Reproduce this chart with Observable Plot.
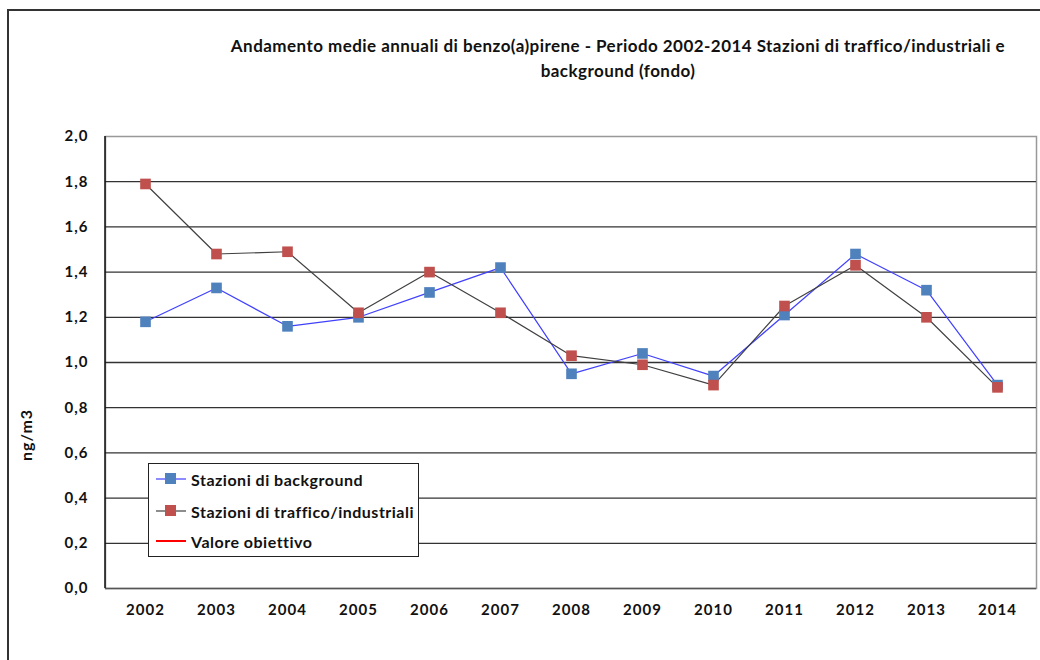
<!DOCTYPE html>
<html>
<head>
<meta charset="utf-8">
<script src="https://cdn.jsdelivr.net/npm/d3@7"></script>
<script src="https://cdn.jsdelivr.net/npm/@observablehq/plot@0.6"></script>
<style>
  html, body { margin: 0; padding: 0; background: #fff; overflow: hidden; }
  #wrap { position: relative; width: 1040px; height: 660px; overflow: hidden; font-family: Lato, "DejaVu Sans", sans-serif; color: #111; }
  #border { position: absolute; left: 7px; top: 9px; width: 1100px; height: 700px; border: 2px solid #333; box-sizing: border-box; }
  #titlebox { position: relative; height: 100px; }
  #title { position: absolute; left: 618px; top: 33px; transform: translateX(-50%); white-space: nowrap; text-align: center; font-weight: bold; font-size: 17px; letter-spacing: 0.45px; line-height: 25px; }
  #ylabel { position: absolute; left: 25px; top: 435px; transform: translate(-50%, -50%) rotate(-90deg); font-weight: bold; font-size: 16px; letter-spacing: 1px; white-space: nowrap; }
  #legend { position: absolute; left: 148px; top: 463px; width: 271px; height: 94px; border: 1px solid #222; background: #fff; box-sizing: border-box; font-weight: bold; font-size: 16px; letter-spacing: 0.5px; }
  .row { position: absolute; left: 5px; height: 20px; display: flex; align-items: center; white-space: nowrap; }
  .row svg { margin-right: 5px; }
  #chart { position: relative; }
  #chart svg text { letter-spacing: 1px; }
</style>
</head>
<body>
<div id="wrap">
  <div id="border"></div>
  <div id="titlebox"><div id="title">Andamento medie annuali di benzo(a)pirene - Periodo 2002-2014 Stazioni di traffico/industriali e<br>background (fondo)</div></div>
  <div id="chart"></div>
  <div id="ylabel">ng/m3</div>
  <div id="legend"></div>
</div>
<script>
// Annual means of benzo(a)pyrene, ng/m3
const years = ["2002", "2003", "2004", "2005", "2006", "2007", "2008", "2009", "2010", "2011", "2012", "2013", "2014"];
const background = [1.18, 1.33, 1.16, 1.20, 1.31, 1.42, 0.95, 1.04, 0.94, 1.21, 1.48, 1.32, 0.90];
const traffic = [1.79, 1.48, 1.49, 1.22, 1.40, 1.22, 1.03, 0.99, 0.90, 1.25, 1.43, 1.20, 0.89];
const targetValue = 1.0;
const yTicks = [0, 0.2, 0.4, 0.6, 0.8, 1.0, 1.2, 1.4, 1.6, 1.8, 2.0];

const seriesNames = ["Stazioni di background", "Stazioni di traffico/industriali", "Valore obiettivo"];
const lineColors = ["#4040ff", "#404040", "#ff0000"];
const markerColors = ["#4f81bd", "#c0504d"];

const bgRows = years.map((y, i) => ({year: y, value: background[i]}));
const trRows = years.map((y, i) => ({year: y, value: traffic[i]}));

const fmt = d => d.toFixed(1).replace(".", ",");

const chart = Plot.plot({
  width: 1040,
  height: 560,
  marginTop: 36,
  marginBottom: 72,
  marginLeft: 105,
  marginRight: 4,
  style: {fontFamily: "Lato, 'DejaVu Sans', sans-serif", fontSize: "15px", fontWeight: "bold", color: "#111", background: "transparent"},
  x: {type: "point", domain: years, padding: 0.5},
  y: {domain: [0, 2]},
  marks: [
    Plot.frame({stroke: "#999", strokeWidth: 1.5}),
    Plot.ruleY(yTicks.filter(t => t > 0 && t < 2), {stroke: "#333", strokeWidth: 1.3}),
    Plot.ruleY([0], {stroke: "#555", strokeWidth: 1.5}),
    Plot.axisY({ticks: yTicks, tickFormat: fmt, tickSize: 0, tickPadding: 17, label: null, fontSize: 15}),
    Plot.axisX({tickSize: 0, tickPadding: 16, label: null, fontSize: 15}),
    Plot.ruleY([targetValue], {x1: years[0], x2: years[years.length - 1], stroke: lineColors[2], strokeWidth: 2.2}),
    Plot.line(bgRows, {x: "year", y: "value", stroke: lineColors[0], strokeWidth: 1.2}),
    Plot.line(trRows, {x: "year", y: "value", stroke: lineColors[1], strokeWidth: 1.2}),
    Plot.dot(bgRows, {x: "year", y: "value", symbol: "square", r: 6, fill: markerColors[0], stroke: null}),
    Plot.dot(trRows, {x: "year", y: "value", symbol: "square", r: 6, fill: markerColors[1], stroke: null})
  ]
});
// black left edge of the plotting area
d3.select(chart).append("line")
  .attr("x1", 105).attr("x2", 105).attr("y1", 36).attr("y2", 488)
  .attr("stroke", "#111").attr("stroke-width", 1.5);
document.getElementById("chart").appendChild(chart);

// legend
const legend = document.getElementById("legend");
const rowTops = [5, 37, 67];
seriesNames.forEach((name, i) => {
  const row = document.createElement("div");
  row.className = "row";
  row.style.top = rowTops[i] + "px";
  const marker = i < 2 ? `<rect x="11" y="0" width="11" height="11" fill="${markerColors[i]}"/>` : "";
  row.innerHTML = `<svg width="32" height="12"><line x1="2" x2="32" y1="6" y2="6" stroke="${lineColors[i]}" stroke-width="${i === 2 ? 2 : 1.2}"/>${marker}</svg><span>${name}</span>`;
  legend.appendChild(row);
});
</script>
</body>
</html>
